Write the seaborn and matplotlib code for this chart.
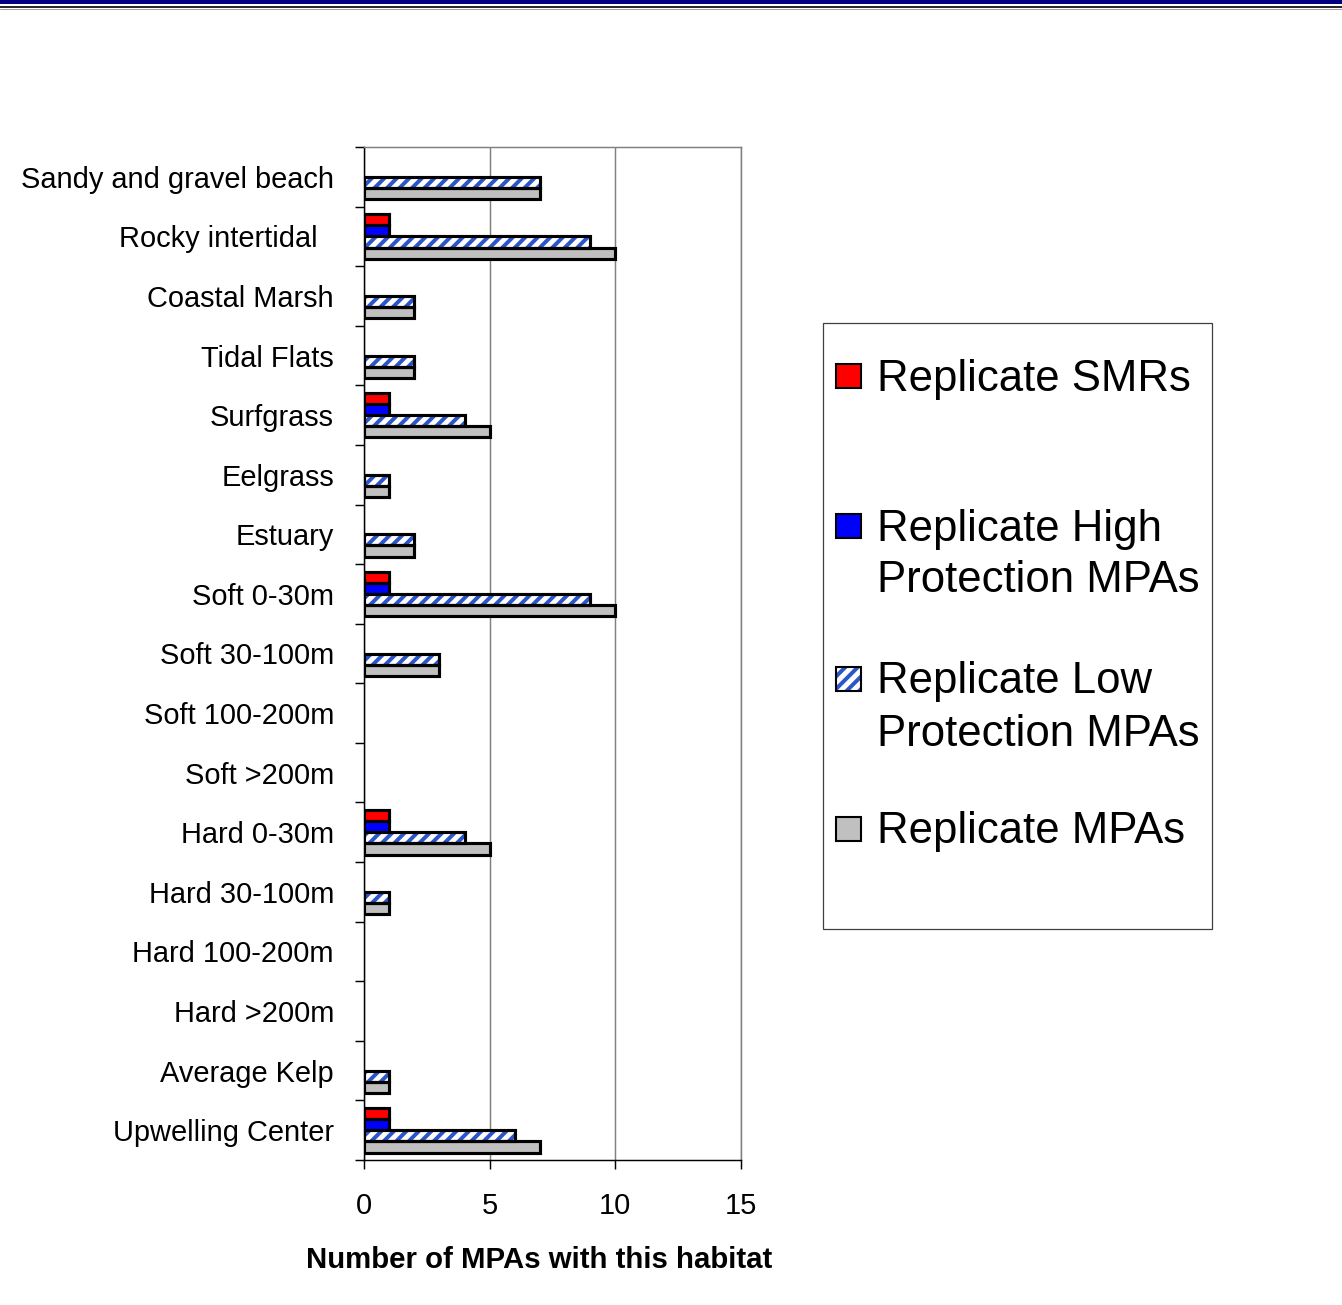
# Habitat replication chart - number of MPAs per habitat

import numpy as np
import pandas as pd
import matplotlib.pyplot as plt
import seaborn as sns
from matplotlib.patches import Rectangle
from matplotlib.lines import Line2D

habitats = ["Sandy and gravel beach", "Rocky intertidal  ", "Coastal Marsh", "Tidal Flats",
            "Surfgrass", "Eelgrass", "Estuary", "Soft 0-30m", "Soft 30-100m",
            "Soft 100-200m", "Soft >200m", "Hard 0-30m", "Hard 30-100m",
            "Hard 100-200m", "Hard >200m", "Average Kelp", "Upwelling Center"]

smr_counts = [0, 1, 0, 0, 1, 0, 0, 1, 0, 0, 0, 1, 0, 0, 0, 0, 1]
high_counts = [0, 1, 0, 0, 1, 0, 0, 1, 0, 0, 0, 1, 0, 0, 0, 0, 1]
low_counts = [7, 9, 2, 2, 4, 1, 2, 9, 3, 0, 0, 4, 1, 0, 0, 1, 6]
mpa_counts = [7, 10, 2, 2, 5, 1, 2, 10, 3, 0, 0, 5, 1, 0, 0, 1, 7]

series = ["Replicate SMRs", "Replicate High\nProtection MPAs",
          "Replicate Low\nProtection MPAs", "Replicate MPAs"]
x_ticks = [0, 5, 10, 15]

colors = ["#FF0000", "#0000FF", "#FFFFFF", "#C0C0C0"]
hatch_blue = "#2B55C8"

sns.set_style("white")
plt.rcParams['font.family'] = ['Liberation Sans', 'DejaVu Sans']
plt.rcParams['hatch.linewidth'] = 1.9
for key in ['text.color', 'axes.labelcolor', 'xtick.color', 'ytick.color']:
    plt.rcParams[key] = 'black'

wide = pd.DataFrame({"habitat": habitats, series[0]: smr_counts, series[1]: high_counts,
                     series[2]: low_counts, series[3]: mpa_counts})
df = wide.melt(id_vars="habitat", var_name="series", value_name="count")

W, H, DPI = 1342, 1305, 150
fig = plt.figure(figsize=(W / DPI, H / DPI), dpi=DPI)
ax = fig.add_axes([364 / W, 1 - 1160 / H, 377 / W, 1013 / H])

sns.barplot(data=df, x="count", y="habitat", hue="series", hue_order=series, order=habitats,
            palette=dict(zip(series, colors)), orient="h", width=0.75, saturation=1,
            edgecolor="black", linewidth=1.5, errorbar=None, legend=False, ax=ax)

# hide empty bars, give the low protection bars the blue stripes
for i, cont in enumerate(ax.containers):
    for p in cont:
        if p.get_width() == 0:
            p.set_visible(False)
            continue
        if i == 2:
            p.set_facecolor("white")
            p.set_hatch("////")
            p.set_edgecolor(hatch_blue)
            p.set_linewidth(0)
            ax.add_patch(Rectangle(p.get_xy(), p.get_width(), p.get_height(),
                                   fill=False, ec="black", lw=1.5, zorder=p.get_zorder()))

ax.set_xlim(0, 15)
ax.set_ylim(len(habitats) - 0.5, -0.5)
ax.set_xticks(x_ticks)
ax.set_yticks(np.arange(len(habitats)))
ax.set_yticklabels(habitats)
ax.set_yticks(np.arange(len(habitats) + 1) - 0.5, minor=True)
ax.tick_params(axis='y', which='major', length=0, pad=14.4, labelsize=13.9)
ax.tick_params(axis='y', which='minor', left=True, length=4.3, width=0.7, color='black')
ax.tick_params(axis='x', bottom=True, length=4.3, width=0.7, color='black', pad=11, labelsize=13.9)
ax.grid(axis='x', color='#808080', lw=0.7)
ax.set_axisbelow(True)
ax.set_ylabel("")

for side in ['left', 'bottom']:
    ax.spines[side].set_color('black')
    ax.spines[side].set_linewidth(0.7)
for side in ['top', 'right']:
    ax.spines[side].set_color('#808080')
    ax.spines[side].set_linewidth(0.7)

ax.set_xlabel("Number of MPAs with this habitat", fontsize=14.1, fontweight='bold')
ax.xaxis.set_label_coords(0.464, -0.0985)
ax.xaxis.label.set_va('center')

# legend box (drawn by hand so the swatch sits on the first text line)
fig.add_artist(Rectangle((823 / W, 1 - 929 / H), 389 / W, 606 / H, fill=False,
                         ec='#404040', lw=0.6, transform=fig.transFigure))
row_y = [376, 526, 679, 829]
for label, col, y in zip(series, colors, row_y):
    box = ((836 / W, 1 - (y + 12) / H), 25 / W, 24 / H)
    if col == "#FFFFFF":
        fig.add_artist(Rectangle(*box, fc='white', ec=hatch_blue, lw=0, hatch='////',
                                 transform=fig.transFigure))
        fig.add_artist(Rectangle(*box, fill=False, ec='black', lw=1.0, transform=fig.transFigure))
    else:
        fig.add_artist(Rectangle(*box, fc=col, ec='black', lw=1.0, transform=fig.transFigure))
    for k, line in enumerate(label.split("\n")):
        fig.text(877 / W, 1 - (y + 3 + k * 52) / H, line, fontsize=21, va='center', ha='left')

# slide header rule
fig.add_artist(Rectangle((0, 1 - 4 / H), 1, 4 / H, fc='#000080', ec='none', transform=fig.transFigure))
fig.add_artist(Line2D([0, 1], [1 - 6.5 / H] * 2, color='black', lw=0.8, transform=fig.transFigure))
fig.add_artist(Line2D([0, 1], [1 - 8.5 / H] * 2, color='#A0A0A0', lw=0.5, transform=fig.transFigure))

fig.savefig("out.png", dpi=DPI)
